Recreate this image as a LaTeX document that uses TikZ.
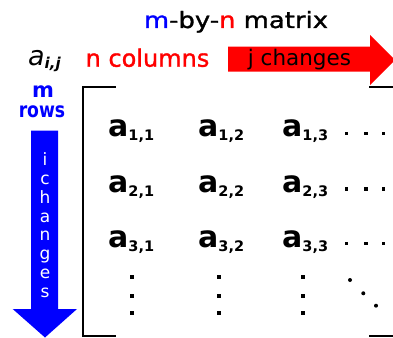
\documentclass[tikz,border=0pt]{standalone}
\usepackage{fontspec}
\setmainfont{DejaVu Sans}
\newfontfamily\heavyfont[FakeBold=1.2]{DejaVu Sans}
\newcommand\matent[2]{a\raisebox{-4pt}{\fontsize{14.5}{14.5}\selectfont #1,#2}}
\begin{document}
\begin{tikzpicture}[x=1pt,y=-1pt]
\useasboundingbox (0,0) rectangle (393,337);
\tikzset{
  ent/.style={anchor=base west, inner sep=0pt, font=\fontsize{30}{30}\selectfont\bfseries},
  dotsq/.style={fill=black, minimum size=3.5pt, inner sep=0pt, rectangle},
  dotrd/.style={fill=black, minimum size=4pt, inner sep=0pt, circle},
  brk/.style={line width=2pt, black, line cap=rect},
  lbl/.style={anchor=base, inner sep=0pt},
  vletter/.style={anchor=base, inner sep=0pt, text=white, font=\fontsize{17}{17}\selectfont},
}
% title
\node[lbl, xscale=1.15, font=\fontsize{22.5}{22.5}\heavyfont\selectfont] (title) at (236,28)
  {{\color{blue}m}-by-{\color{red}n} matrix};
% a_{i,j}
\node[anchor=base west, inner sep=0pt] (aij) at (28,65)
  {\fontsize{27}{27}\selectfont\itshape a\raisebox{-3pt}{\fontsize{15}{15}\selectfont\bfseries\itshape i,j}};
% n columns
\node[lbl, text=red, font=\fontsize{24}{24}\heavyfont\selectfont] (ncol) at (147.5,66.7) {n columns};
% red arrow
\fill[red] (228,46.7) -- (370,46.7) -- (370,35) -- (395,60) -- (370,85) -- (370,71.7) -- (228,71.7) -- cycle;
\node[lbl, font=\fontsize{21.5}{21.5}\selectfont] (jch) at (299.5,65) {j changes};
% m rows
\node[lbl, text=blue, font=\fontsize{21}{21}\selectfont\bfseries] (mlab) at (43,97) {m};
\node[lbl, text=blue, xscale=0.82, font=\fontsize{21}{21}\selectfont\bfseries] (rows) at (42,117) {rows};
% blue arrow
\fill[blue] (31,130.7) -- (58,130.7) -- (58,309) -- (77,309) -- (45,337.5) -- (12.7,309) -- (31,309) -- cycle;
\foreach \l/\y [count=\k] in {i/165.7, c/184.5, h/203.3, a/222, n/240.8, g/259.6, e/278.4, s/297.2}
  \node[vletter] (ich\k) at (45,\y) {\l};
% brackets
\draw[brk] (115,87) -- (82.5,87) -- (82.5,336) -- (115,336);
\draw[brk] (370,87) -- (396,87);
\draw[brk] (370,336) -- (396,336);
% entries
\foreach \r/\yb in {1/136, 2/192, 3/247}{
  \node[ent] (e\r1) at (108,\yb) {\matent{\r}{1}};
  \node[ent] (e\r2) at (198,\yb) {\matent{\r}{2}};
  \node[ent] (e\r3) at (282,\yb) {\matent{\r}{3}};
}
% horizontal dots
\foreach \r/\yd in {1/133.3, 2/189, 3/243.3}
  \foreach \xd [count=\c] in {346.7, 366, 383.3}
    \node[dotsq] (hd\r\c) at (\xd,\yd) {};
% vertical dots
\foreach \xd [count=\c] in {132, 219, 303}
  \foreach \yd [count=\r] in {277, 296, 313}
    \node[dotsq] (vd\c\r) at (\xd,\yd) {};
% diagonal dots
\node[dotrd] (dd1) at (350,280) {};
\node[dotrd] (dd2) at (363.3,293.3) {};
\node[dotrd] (dd3) at (376,305.7) {};
\end{tikzpicture}
\end{document}
